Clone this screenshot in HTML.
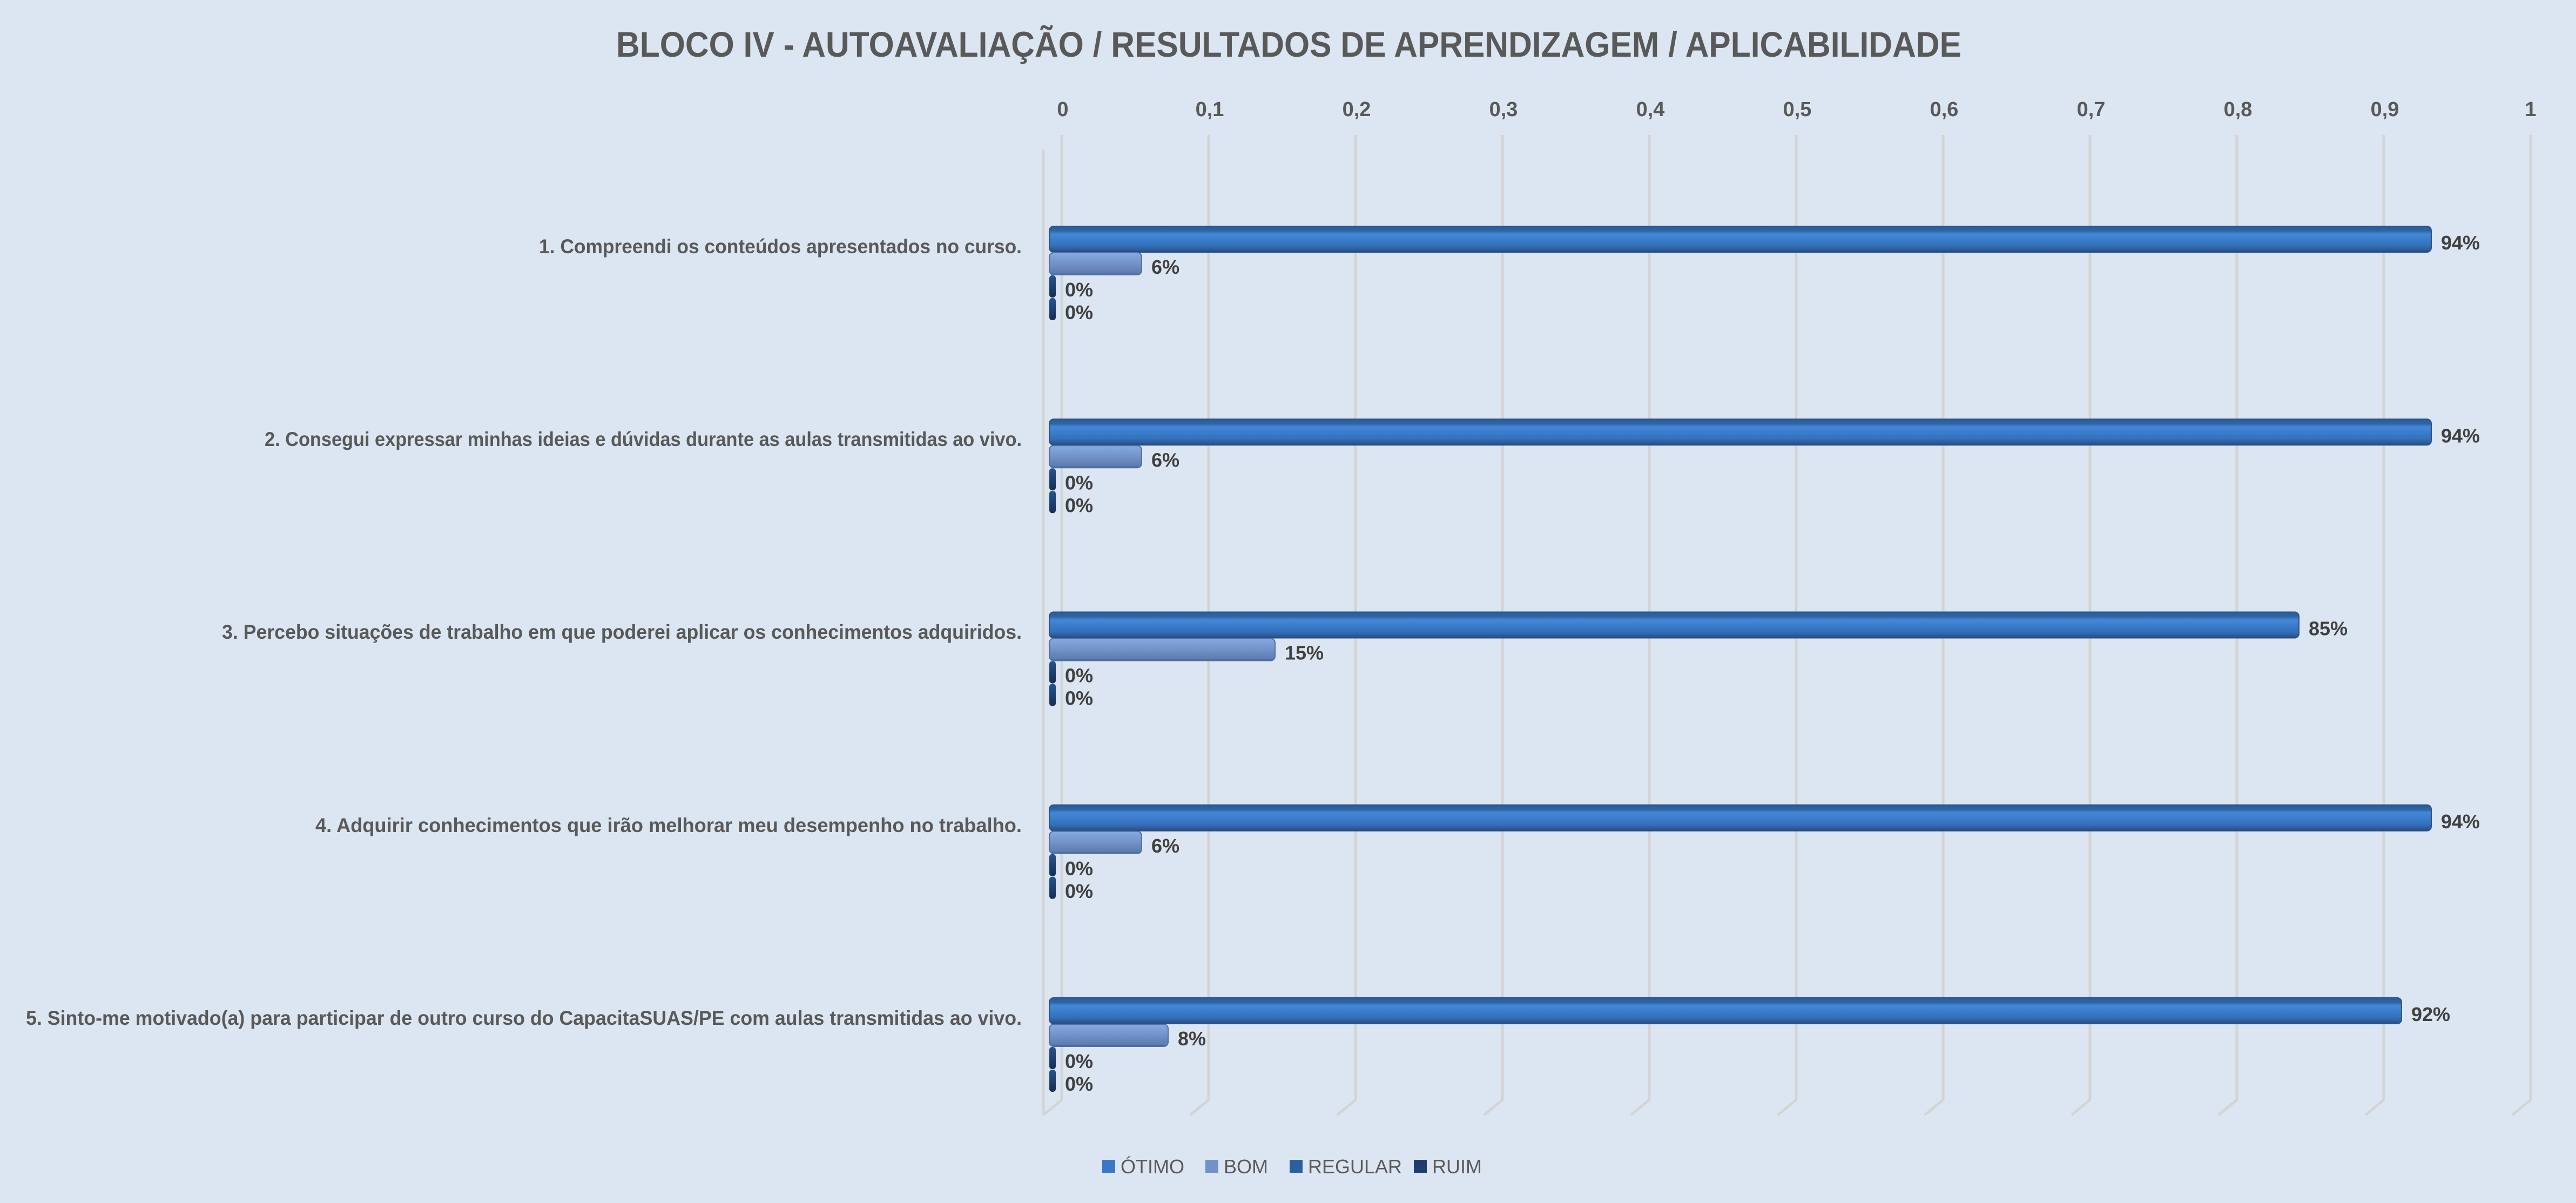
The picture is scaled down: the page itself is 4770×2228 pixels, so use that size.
<!DOCTYPE html>
<html><head><meta charset="utf-8"><style>html,body{margin:0;padding:0;background:#dce6f2;}svg{display:block}</style></head>
<body>
<svg width="4770" height="2228" viewBox="0 0 4770 2228" xmlns="http://www.w3.org/2000/svg" font-family="'Liberation Sans', sans-serif">
<defs>
<linearGradient id="gO" x1="0" y1="0" x2="0" y2="1">
<stop offset="0" stop-color="#2b5c97"/><stop offset="0.18" stop-color="#2f64a6"/><stop offset="0.3" stop-color="#4288d8"/><stop offset="0.75" stop-color="#3570bb"/><stop offset="0.95" stop-color="#2a5590"/><stop offset="1" stop-color="#1c3a66"/>
</linearGradient>
<linearGradient id="gB" x1="0" y1="0" x2="0" y2="1">
<stop offset="0" stop-color="#87aae4"/><stop offset="0.5" stop-color="#7292c8"/><stop offset="0.92" stop-color="#5d7cb0"/><stop offset="1" stop-color="#3e5a88"/>
</linearGradient>
<linearGradient id="gD" x1="0" y1="0" x2="0" y2="1">
<stop offset="0" stop-color="#2a528a"/><stop offset="1" stop-color="#162f52"/>
</linearGradient>
</defs>
<rect width="4770" height="2228" fill="#dce6f2"/>
<text x="1141" y="105" font-size="66" font-weight="bold" fill="#595959" textLength="2491" lengthAdjust="spacingAndGlyphs">BLOCO IV - AUTOAVALIAÇÃO / RESULTADOS DE APRENDIZAGEM / APLICABILIDADE</text>
<g stroke="#d4d4d4" stroke-width="5" fill="none">
<path d="M1932 277 L1932 2065"/>
<path d="M1966 250 V2037 L1932 2065"/>
<path d="M2238 250 V2037 L2204 2065"/>
<path d="M2510 250 V2037 L2476 2065"/>
<path d="M2782 250 V2037 L2748 2065"/>
<path d="M3054 250 V2037 L3020 2065"/>
<path d="M3326 250 V2037 L3292 2065"/>
<path d="M3598 250 V2037 L3564 2065"/>
<path d="M3870 250 V2037 L3836 2065"/>
<path d="M4142 250 V2037 L4108 2065"/>
<path d="M4414 250 V2037 L4380 2065"/>
<path d="M4686 250 V2037 L4652 2065"/>
</g>
<g font-size="38" font-weight="bold" fill="#595959" text-anchor="middle">
<text x="1968" y="215">0</text><text x="2240" y="215">0,1</text><text x="2512" y="215">0,2</text><text x="2784" y="215">0,3</text><text x="3056" y="215">0,4</text><text x="3328" y="215">0,5</text><text x="3600" y="215">0,6</text><text x="3872" y="215">0,7</text><text x="4144" y="215">0,8</text><text x="4416" y="215">0,9</text><text x="4686" y="215">1</text>
</g>
<g font-size="37" font-weight="bold" fill="#595959" text-anchor="end">
<text x="1892" y="469" textLength="894" lengthAdjust="spacingAndGlyphs">1. Compreendi os conteúdos apresentados no curso.</text>
<text x="1892" y="826" textLength="1402" lengthAdjust="spacingAndGlyphs">2. Consegui expressar minhas ideias e dúvidas durante as aulas transmitidas ao vivo.</text>
<text x="1892" y="1183" textLength="1481" lengthAdjust="spacingAndGlyphs">3. Percebo situações de trabalho em que poderei aplicar os conhecimentos adquiridos.</text>
<text x="1892" y="1541" textLength="1308" lengthAdjust="spacingAndGlyphs">4. Adquirir conhecimentos que irão melhorar meu desempenho no trabalho.</text>
<text x="1892" y="1898" textLength="1844" lengthAdjust="spacingAndGlyphs">5. Sinto-me motivado(a) para participar de outro curso do CapacitaSUAS/PE com aulas transmitidas ao vivo.</text>
</g>
<g font-size="36" font-weight="bold" fill="#404040">
<g transform="translate(0,419)">
<rect x="1943" y="0" width="2559" height="48" rx="8" fill="url(#gO)" stroke="#2a5288" stroke-width="2"/>
<rect x="1943" y="49" width="171" height="41" rx="8" fill="url(#gB)" stroke="#51709f" stroke-width="2"/>
<rect x="1943" y="91" width="12" height="41" rx="5" fill="url(#gD)"/>
<rect x="1943" y="133" width="12" height="41" rx="5" fill="url(#gD)"/>
<text x="4520" y="43">94%</text><text x="2132" y="88">6%</text><text x="1972" y="130">0%</text><text x="1972" y="172">0%</text>
</g>
<g transform="translate(0,776.25)">
<rect x="1943" y="0" width="2559" height="48" rx="8" fill="url(#gO)" stroke="#2a5288" stroke-width="2"/>
<rect x="1943" y="49" width="171" height="41" rx="8" fill="url(#gB)" stroke="#51709f" stroke-width="2"/>
<rect x="1943" y="91" width="12" height="41" rx="5" fill="url(#gD)"/>
<rect x="1943" y="133" width="12" height="41" rx="5" fill="url(#gD)"/>
<text x="4520" y="43">94%</text><text x="2132" y="88">6%</text><text x="1972" y="130">0%</text><text x="1972" y="172">0%</text>
</g>
<g transform="translate(0,1133.5)">
<rect x="1943" y="0" width="2314" height="48" rx="8" fill="url(#gO)" stroke="#2a5288" stroke-width="2"/>
<rect x="1943" y="49" width="418" height="41" rx="8" fill="url(#gB)" stroke="#51709f" stroke-width="2"/>
<rect x="1943" y="91" width="12" height="41" rx="5" fill="url(#gD)"/>
<rect x="1943" y="133" width="12" height="41" rx="5" fill="url(#gD)"/>
<text x="4275" y="43">85%</text><text x="2379" y="88">15%</text><text x="1972" y="130">0%</text><text x="1972" y="172">0%</text>
</g>
<g transform="translate(0,1490.75)">
<rect x="1943" y="0" width="2559" height="48" rx="8" fill="url(#gO)" stroke="#2a5288" stroke-width="2"/>
<rect x="1943" y="49" width="171" height="41" rx="8" fill="url(#gB)" stroke="#51709f" stroke-width="2"/>
<rect x="1943" y="91" width="12" height="41" rx="5" fill="url(#gD)"/>
<rect x="1943" y="133" width="12" height="41" rx="5" fill="url(#gD)"/>
<text x="4520" y="43">94%</text><text x="2132" y="88">6%</text><text x="1972" y="130">0%</text><text x="1972" y="172">0%</text>
</g>
<g transform="translate(0,1848)">
<rect x="1943" y="0" width="2504" height="48" rx="8" fill="url(#gO)" stroke="#2a5288" stroke-width="2"/>
<rect x="1943" y="49" width="220" height="41" rx="8" fill="url(#gB)" stroke="#51709f" stroke-width="2"/>
<rect x="1943" y="91" width="12" height="41" rx="5" fill="url(#gD)"/>
<rect x="1943" y="133" width="12" height="41" rx="5" fill="url(#gD)"/>
<text x="4465" y="43">92%</text><text x="2181" y="88">8%</text><text x="1972" y="130">0%</text><text x="1972" y="172">0%</text>
</g>
</g>
<g font-size="36" fill="#595959">
<rect x="2041" y="2148" width="24" height="24" fill="#3a78c6"/><text x="2075" y="2173">ÓTIMO</text>
<rect x="2232" y="2148" width="24" height="24" fill="#7192c8"/><text x="2266" y="2173">BOM</text>
<rect x="2388" y="2148" width="24" height="24" fill="#2d5f9e"/><text x="2422" y="2173">REGULAR</text>
<rect x="2618" y="2148" width="24" height="24" fill="#1e3f6c"/><text x="2652" y="2173">RUIM</text>
</g>
</svg>
</body></html>
